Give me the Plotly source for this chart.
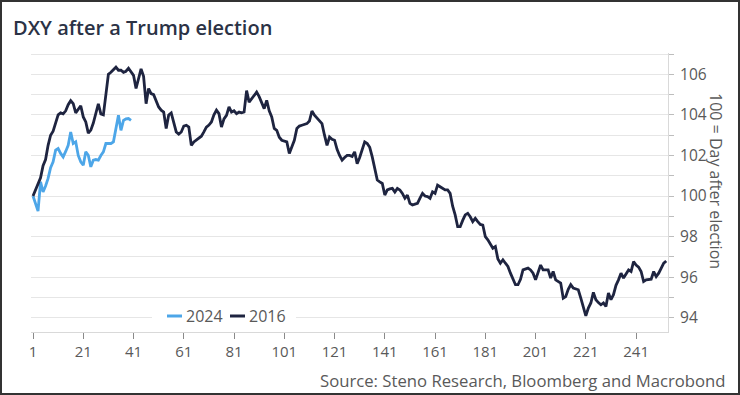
import plotly.graph_objects as go

# ---- data ----
vals_2016 = [
    100.0, 100.3, 100.6, 100.9, 101.5, 101.8, 102.5, 103.0, 103.2, 103.6,
    104.0, 104.1, 104.05, 104.2, 104.5, 104.7, 104.55, 104.1, 104.3, 104.45,
    103.9, 103.65, 103.1, 103.25, 103.6, 104.1, 104.55, 104.05, 104.0, 105.0,
    106.0, 106.1, 106.25, 106.35, 106.2, 106.2, 106.1, 106.15, 106.3, 106.1,
    105.95, 105.3, 105.8, 106.27, 105.9, 104.55, 105.3, 105.05, 105.0, 104.7,
    104.39, 104.23, 104.14, 103.33, 104.0, 104.1, 103.65, 103.16, 103.05, 103.16,
    103.45, 103.49, 103.4, 102.5, 102.67, 102.75, 102.83, 102.95, 103.16, 103.4,
    103.5, 103.65, 104.0, 104.23, 104.06, 103.4, 103.8, 103.98, 104.39, 104.14,
    104.2, 104.06, 104.14, 104.1, 104.14, 105.2, 104.63, 104.8, 105.0, 105.12,
    104.9, 104.6, 104.31, 104.72, 104.2, 103.9, 103.33, 103.24, 102.9, 102.75,
    102.7, 102.67, 102.1, 102.45, 102.75, 103.33, 103.45, 103.49, 103.55, 103.57,
    103.7, 104.19, 103.98, 103.85, 103.73, 103.57, 103.0, 102.5, 102.91, 102.8,
    102.75, 102.3, 102.0, 101.77, 101.9, 102.0, 102.0, 101.95, 102.18, 101.6,
    101.9, 102.26, 102.67, 102.59, 102.4, 101.93, 101.4, 100.79, 100.7, 100.62,
    100.05, 100.3, 100.35, 100.38, 100.2, 100.38, 100.3, 100.13, 99.89, 100.05,
    99.64, 99.56, 99.6, 99.64, 99.9, 100.13, 100.0, 99.97, 99.89, 100.21,
    100.13, 100.54, 100.46, 100.4, 100.3, 100.3, 100.13, 99.5, 99.07, 98.49,
    98.49, 98.8, 99.07, 99.15, 98.98, 98.74, 98.9, 98.74, 98.6, 98.57,
    98.0, 97.84, 97.6, 97.43, 97.51, 96.9, 96.69, 96.86, 96.69, 96.53,
    96.2, 95.87, 95.63, 95.63, 95.9, 96.36, 96.4, 96.45, 96.36, 96.2,
    95.87, 96.3, 96.6, 96.36, 96.36, 96.36, 95.96, 96.28, 95.87, 95.8,
    95.71, 94.97, 95.05, 95.4, 95.63, 95.46, 95.4, 95.38, 94.97, 94.56,
    94.1, 94.48, 94.73, 95.25, 94.89, 94.75, 94.64, 94.73, 94.56, 95.22,
    94.89, 95.14, 95.6, 95.87, 96.2, 95.96, 96.2, 96.36, 96.28, 96.77,
    96.6, 96.5, 96.28, 95.79, 95.87, 95.87, 95.9, 96.28, 96.03, 96.2,
    96.45, 96.69, 96.8,
]
vals_2024 = [
    100.0, 99.6, 99.26, 100.7, 100.2, 100.5, 100.87, 101.4, 101.69, 102.26,
    102.34, 102.1, 101.93, 102.2, 102.5, 103.16, 102.59, 102.67, 102.0, 101.69,
    101.52, 102.18, 102.01, 101.44, 101.77, 101.8, 101.77, 102.0, 102.18, 102.59,
    102.6, 102.59, 102.67, 103.3, 103.98, 103.24, 103.73, 103.8, 103.82, 103.73,
]
days_2016 = list(range(1, len(vals_2016) + 1))
days_2024 = list(range(1, len(vals_2024) + 1))
x_ticks = [1, 21, 41, 61, 81, 101, 121, 141, 161, 181, 201, 221, 241]
y_ticks = [94, 96, 98, 100, 102, 104, 106]
series_names = ["2024", "2016"]

title_text = "DXY after a Trump election"
y_title = "100 = Day after election"
source_text = "Source: Steno Research, Bloomberg and Macrobond"

NAVY = "#1e2440"
BLUE = "#4da6e8"
GRAY_TXT = "#595959"
FONT = "Open Sans"

W, H = 740, 395
ML, MR, MT, MB = 31, 72, 53, 63
PW, PH = W - ML - MR, H - MT - MB


def px_x(p):
    return (p - ML) / PW


def px_y(p):
    return (H - MB - p) / PH


fig = go.Figure()
fig.add_trace(go.Scatter(x=days_2024, y=vals_2024, mode="lines", name=series_names[0],
                         line=dict(color=BLUE, width=2.8), showlegend=False))
fig.add_trace(go.Scatter(x=days_2016, y=vals_2016, mode="lines", name=series_names[1],
                         line=dict(color=NAVY, width=2.8), showlegend=False))

fig.update_layout(
    width=W, height=H,
    margin=dict(l=ML, r=MR, t=MT, b=MB, pad=0),
    paper_bgcolor="white", plot_bgcolor="white",
    font=dict(family=FONT, size=15, color=GRAY_TXT),
    title=dict(text=title_text, xref="container", yref="container",
               x=13 / W, xanchor="left", y=1 - 28 / H, yanchor="middle",
               font=dict(family=FONT, size=20, color="#2b3245", weight=600)),
    showlegend=False,
    xaxis=dict(range=[0.2, 253.7], tickvals=x_ticks, showgrid=False,
               zeroline=False, showline=True, linecolor="#d9d9d9", linewidth=1,
               ticks="outside", ticklen=6, tickcolor="#8a8a8a",
               tickfont=dict(size=15, color=GRAY_TXT)),
    yaxis=dict(range=[93.3, 107.05], side="right", tickvals=y_ticks,
               showgrid=True, gridcolor="#e6e6e6", gridwidth=1,
               zeroline=False, showline=True, linecolor="#d9d9d9", linewidth=1,
               ticks="outside", ticklen=5, tickcolor="#bdbdbd",
               ticklabelstandoff=3,
               tickfont=dict(size=15.5, color=GRAY_TXT),
               minor=dict(dtick=1, tick0=93, showgrid=True, gridcolor="#e6e6e6",
                          ticks="outside", ticklen=5, tickcolor="#bdbdbd")),
)

# legend (compact, as in the reference)
fig.add_shape(type="rect", xref="paper", yref="paper",
              x0=px_x(152), x1=px_x(296), y0=px_y(327), y1=px_y(306),
              line=dict(width=0), fillcolor="white", layer="above")
leg_items = [(series_names[0], BLUE, 167), (series_names[1], NAVY, 230)]
for name, col, x0 in leg_items:
    fig.add_shape(type="line", xref="paper", yref="paper",
                  x0=px_x(x0), x1=px_x(x0 + 15), y0=px_y(316), y1=px_y(316),
                  line=dict(color=col, width=3), layer="above")
    fig.add_annotation(text=name, xref="paper", yref="paper",
                       x=px_x(x0 + 17), xanchor="left", y=px_y(316), yanchor="middle",
                       showarrow=False, font=dict(size=16, color=GRAY_TXT))

fig.add_annotation(text=y_title, xref="paper", yref="paper",
                   x=px_x(716), xanchor="center", y=px_y(181), yanchor="middle",
                   showarrow=False, textangle=90,
                   font=dict(size=16, color=GRAY_TXT))
fig.add_annotation(text=source_text, xref="paper", yref="paper",
                   x=px_x(728), xanchor="right", y=px_y(380), yanchor="middle",
                   showarrow=False, font=dict(size=16.7, color=GRAY_TXT))

fig.add_shape(type="rect", xref="paper", yref="paper",
              x0=px_x(1), x1=px_x(739), y0=px_y(394), y1=px_y(1),
              line=dict(color="#333333", width=2), fillcolor="rgba(0,0,0,0)",
              layer="above")

fig.write_html("out.html", config={"displayModeBar": False},
               post_script="document.body.style.margin='0px';document.body.style.padding='0px';")
